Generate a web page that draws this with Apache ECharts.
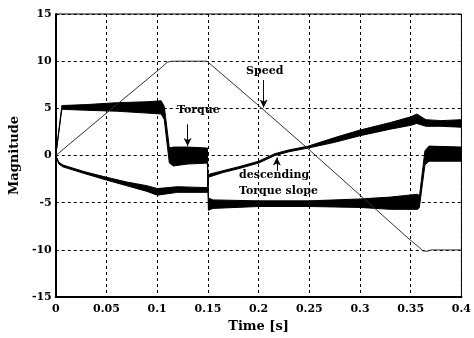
<!DOCTYPE html>
<html>
<head>
<meta charset="utf-8">
<script src="https://cdn.jsdelivr.net/npm/echarts@6/dist/echarts.min.js"></script>
<style>
  html, body {margin: 0; padding: 0; background: #fff;}
  #chart {width: 474px; height: 338px;}
</style>
</head>
<body>
<div id="chart"></div>
<script>
// speed: thin ramp line
const speedTime = [0, 0.05, 0.105, 0.11, 0.115, 0.149, 0.2, 0.25, 0.3, 0.35, 0.358, 0.362, 0.366, 0.37, 0.4];
const speedVal = [0, 4.5, 9.4, 9.9, 10, 10, 5.3, 0.6, -4.2, -9.0, -9.7, -10.1, -10.15, -10, -10];

// torque: noisy band, upper / lower edge
const torqueTime = [0, 0.006, 0.03, 0.06, 0.09, 0.104, 0.107, 0.112, 0.116, 0.13, 0.1495, 0.1505, 0.155, 0.2, 0.25, 0.3, 0.33, 0.357, 0.3585, 0.364, 0.368, 0.4];
const torqueUpper = [0, 5.3, 5.4, 5.6, 5.7, 5.8, 5.2, 0.8, 0.9, 0.9, 0.8, -4.5, -4.7, -4.8, -4.8, -4.6, -4.4, -4.1, -4.4, 0.5, 1.0, 0.9];
const torqueLower = [0, 4.9, 4.8, 4.7, 4.5, 4.4, 3.8, -0.8, -1.1, -0.9, -0.8, -5.8, -5.6, -5.4, -5.4, -5.5, -5.7, -5.7, -5.5, -1.0, -0.6, -0.6];

// third trace (the one with the descending torque slope note)
const fluxTime = [0, 0.003, 0.007, 0.028, 0.05, 0.07, 0.09, 0.1, 0.12, 0.1495, 0.1505, 0.165, 0.18, 0.2, 0.216, 0.23, 0.249, 0.275, 0.3, 0.33, 0.35, 0.356, 0.365, 0.38, 0.4];
const fluxUpper = [0, -0.7, -1.0, -1.7, -2.3, -2.8, -3.2, -3.5, -3.3, -3.4, -2.0, -1.6, -1.2, -0.6, 0.2, 0.6, 1.0, 1.9, 2.7, 3.5, 4.1, 4.4, 3.8, 3.7, 3.8];
const fluxLower = [0, -0.9, -1.2, -1.9, -2.6, -3.2, -3.8, -4.2, -3.9, -3.9, -2.3, -1.8, -1.4, -0.8, 0.0, 0.4, 0.8, 1.4, 2.1, 2.8, 3.2, 3.4, 3.1, 3.1, 3.0];

const xTicks = ['0', '0.05', '0.1', '0.15', '0.2', '0.25', '0.3', '0.35', '0.4'];

const font = 'DejaVu Serif';

const pairs = (t, v) => t.map((x, i) => [x, v[i]]);

// band drawn as one filled polygon: upper edge forward, lower edge back
const band = (name, t, hi, lo) => ({
  name: name, type: 'custom',
  data: t.map((x, i) => [x, hi[i], lo[i]]),
  encode: {x: 0, y: [1, 2]},
  renderItem(params, api) {
    if (params.dataIndexInside !== 0) return null;
    const n = params.dataInsideLength;
    const points = [];
    for (let i = 0; i < n; i++) points.push(api.coord([api.value(0, i), api.value(1, i)]));
    for (let i = n - 1; i >= 0; i--) points.push(api.coord([api.value(0, i), api.value(2, i)]));
    return {
      type: 'polygon',
      shape: {points: points},
      style: {fill: '#000', stroke: '#000', lineWidth: 1}
    };
  }
});

const arrow = (x0, y0, x1, y1) => [{coord: [x0, y0]}, {coord: [x1, y1]}];

const myChart = echarts.init(document.getElementById('chart'));
myChart.setOption({
  animation: false,
  backgroundColor: '#fff',
  grid: {left: 55, right: 9, top: 14, bottom: 39, show: true, borderColor: '#000', borderWidth: 1},
  xAxis: {
    type: 'value', min: 0, max: 0.4, interval: 0.05,
    name: 'Time [s]', nameLocation: 'middle', nameGap: 22,
    nameTextStyle: {fontFamily: font, fontWeight: 'bold', fontSize: 13, color: '#000'},
    axisLine: {show: true, onZero: false, lineStyle: {color: '#000', width: 2}},
    axisTick: {show: false},
    axisLabel: {
      fontFamily: font, fontWeight: 'bold', fontSize: 11, color: '#000', margin: 7,
      formatter: (v) => xTicks[Math.round(v / 0.05)]
    },
    splitLine: {show: true, lineStyle: {color: '#000', type: [3, 3], width: 1}}
  },
  yAxis: {
    type: 'value', min: -15, max: 15, interval: 5,
    name: 'Magnitude', nameLocation: 'middle', nameGap: 32,
    nameTextStyle: {fontFamily: font, fontWeight: 'bold', fontSize: 13, color: '#000'},
    axisLine: {show: true, onZero: false, lineStyle: {color: '#000', width: 2}},
    axisTick: {show: false},
    axisLabel: {fontFamily: font, fontWeight: 'bold', fontSize: 11, color: '#000', margin: 4},
    splitLine: {show: true, lineStyle: {color: '#000', type: [3, 3], width: 1}}
  },
  series: [
    band('torque', torqueTime, torqueUpper, torqueLower),
    band('flux', fluxTime, fluxUpper, fluxLower),
    {
      name: 'Speed', type: 'line', data: pairs(speedTime, speedVal), symbol: 'none',
      lineStyle: {color: '#333', width: 1},
      markLine: {
        silent: true, symbol: ['none', 'arrow'], symbolSize: [6, 8],
        label: {show: false},
        lineStyle: {color: '#000', type: 'solid', width: 1},
        data: [
          arrow(0.205, 8.0, 0.205, 5.1),
          arrow(0.13, 3.3, 0.13, 1.0),
          arrow(0.218, -1.6, 0.218, -0.2)
        ]
      }
    }
  ],
  graphic: [
    {type: 'text', left: 245, top: 66, style: {text: 'Speed', font: 'bold 11px "DejaVu Serif"', fill: '#000', backgroundColor: '#fff', padding: [0, 1]}},
    {type: 'text', left: 176, top: 105, style: {text: 'Torque', font: 'bold 11px "DejaVu Serif"', fill: '#000', backgroundColor: '#fff', padding: [0, 1]}},
    {type: 'text', left: 239, top: 170, style: {text: 'descending', font: 'bold 11px "DejaVu Serif"', fill: '#000'}},
    {type: 'text', left: 239, top: 186, style: {text: 'Torque slope', font: 'bold 11px "DejaVu Serif"', fill: '#000'}}
  ]
});
</script>
</body>
</html>
